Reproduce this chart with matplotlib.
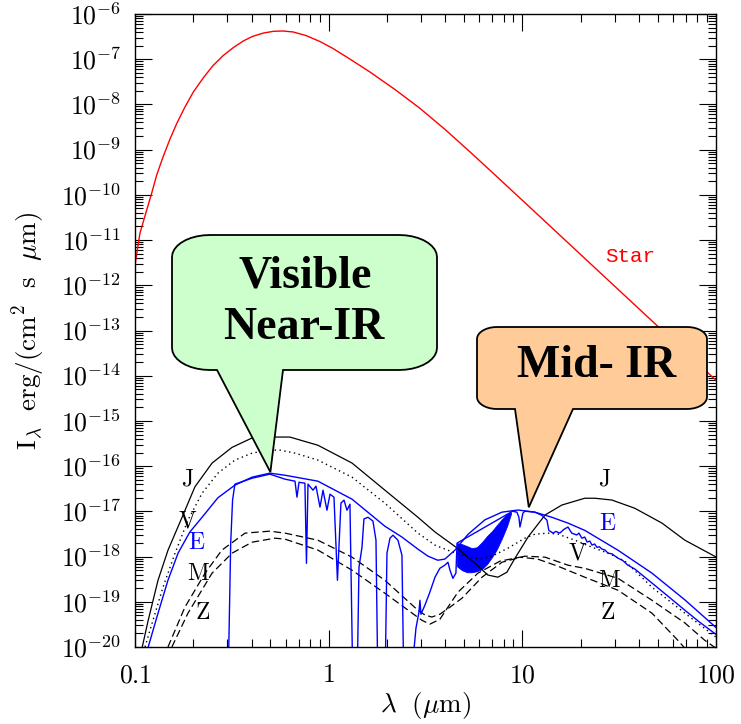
import numpy as np
import matplotlib
matplotlib.use("Agg")
import matplotlib.pyplot as plt
from matplotlib.patches import Polygon
from matplotlib.ticker import LogLocator, NullFormatter, FuncFormatter

plt.rcParams['mathtext.fontset'] = 'cm'

W, H = 741, 724

# --- data (wavelength in micron, intensity in erg/(cm2 s um)) ---
star_wl = [0.1, 0.1061, 0.1149, 0.122, 0.1294, 0.1395, 0.1516, 0.1647, 0.1811, 0.2, 0.2249, 0.253,
           0.2856, 0.3221, 0.3623, 0.4033, 0.4612, 0.5183, 0.5815, 0.6565, 0.7634, 0.9018, 1.052,
           1.238, 1.335, 1.634, 2.199, 2.96, 3.984, 5.364, 7.219, 9.718, 13.35, 19.14, 49.54, 100]
star_I = [2.8e-12, 1.43e-11, 4.6e-11, 1.1e-10, 2.74e-10, 6.86e-10, 1.72e-9, 3.88e-9, 8.75e-9, 1.88e-8,
          3.84e-8, 7.26e-8, 1.21e-7, 1.81e-7, 2.53e-7, 3.18e-7, 3.8e-7, 4.14e-7, 4.21e-7, 4.0e-7,
          3.34e-7, 2.46e-7, 1.73e-7, 1.12e-7, 9.12e-8, 5.21e-8, 2.14e-8, 8.2e-9, 2.81e-9, 8.94e-10,
          2.77e-10, 8.5e-11, 2.4e-11, 5.7e-12, 1.29e-13, 7.9e-15]

jup_wl = [0.109, 0.117, 0.1315, 0.148, 0.175, 0.204, 0.25, 0.317, 0.402, 0.541, 0.63, 0.88,
          1.32, 1.95, 2.89, 3.54, 4.6, 5.69, 6.64, 7.48, 8.32, 9.15, 10.7, 13.1, 16.0, 21.0,
          23.7, 29.0, 38.1, 52.6, 69.1, 100]
jup_I = [1e-20, 3.9e-20, 3.0e-19, 1.38e-18, 7.4e-18, 3.5e-17, 1.17e-16, 2.6e-16, 4.2e-16, 4.4e-16,
         4.4e-16, 2.9e-16, 1.17e-16, 2.95e-17, 7.4e-18, 3.5e-18, 1.55e-18, 7.1e-19, 3.9e-19, 3.5e-19,
         4.5e-19, 9.1e-19, 2.7e-18, 8.3e-18, 1.38e-17, 1.95e-17, 1.95e-17, 1.78e-17, 1.17e-17,
         5.5e-18, 2.3e-18, 9.8e-19]

ven_wl = [0.1126, 0.1238, 0.1395, 0.161, 0.1877, 0.2218, 0.268, 0.328, 0.402, 0.486, 0.561, 0.67,
          0.88, 1.32, 1.95, 2.89, 3.54, 4.38, 5.05, 6.04, 6.97, 8.42, 10.3, 11.6, 13.6, 15.3, 18.7,
          22.9, 27.7, 33.9, 46.7, 69.1, 100]
ven_I = [1e-20, 3.9e-20, 2.1e-19, 1.19e-18, 6.4e-18, 2.5e-17, 7.0e-17, 1.36e-16, 1.94e-16, 2.26e-16,
         2.26e-16, 1.94e-16, 1.36e-16, 5.7e-17, 1.52e-17, 3.3e-18, 1.79e-18, 1.25e-18, 1.02e-18,
         8.8e-19, 1.02e-18, 1.53e-18, 2.55e-18, 3.13e-18, 3.3e-18, 3.13e-18, 2.3e-18, 1.61e-18,
         1.19e-18, 7.9e-19, 2.1e-19, 5.6e-20, 1.65e-20]

# Earth: smooth model (no absorption)
earth_env_wl = [0.117, 0.1315, 0.148, 0.167, 0.192, 0.222, 0.268, 0.328, 0.402, 0.497, 0.594, 0.88,
                1.32, 1.95, 2.39, 2.89, 3.26, 3.66, 3.98, 4.49, 5.24, 6.41, 7.85, 9.5, 11.6, 14.2,
                17.2, 21.0, 31.2, 46.7, 69.1, 100]
earth_env_I = [1e-20, 5.6e-20, 3.0e-19, 1.2e-18, 3.5e-18, 7.4e-18, 2.0e-17, 3.8e-17, 5.7e-17, 7.0e-17,
               6.3e-17, 4.65e-17, 1.86e-17, 4.7e-18, 2.7e-18, 1.46e-18, 1.02e-18, 8.3e-19, 8.8e-19,
               1.39e-18, 3.1e-18, 6.5e-18, 9.6e-18, 1.07e-17, 9.6e-18, 7.4e-18, 5.5e-18, 3.8e-18,
               1.38e-18, 4.3e-19, 1.1e-19, 2.7e-20]

# Earth: spectrum with absorption bands
earth_wl = [0.302, 0.312, 0.319, 0.328, 0.402, 0.497, 0.595, 0.67, 0.686, 0.703, 0.754, 0.768, 0.782,
            0.83, 0.86, 0.902, 0.935, 0.98, 1.016, 1.065, 1.11, 1.157, 1.2, 1.243, 1.288, 1.335, 1.40,
            1.434, 1.486, 1.521, 1.596, 1.693, 1.755, 1.797, 1.953, 2.0, 2.073, 2.148, 2.279, 2.39,
            2.447, 2.63, 2.823, 2.925, 2.96, 2.995, 3.14, 3.33, 3.54, 3.75, 3.98, 4.13, 4.23, 4.38,
            4.54, 4.60, 8.73, 8.83, 9.38, 9.6, 9.72, 9.9, 10.07, 10.3, 11.6, 12.6, 13.4, 13.7, 14.4,
            14.9, 15.6, 16.4, 17.2, 18.0, 19.1, 19.6, 20.3, 21.0, 21.6, 22.3, 22.9, 23.6, 24.3, 25.0,
            25.8, 26.7, 27.7, 29.0, 31.2, 33.0, 35.0, 38.1, 46.7, 56.5, 69.1, 82.6, 100]
earth_I = [1e-21, 2.0e-18, 1.78e-17, 4.0e-17, 5.4e-17, 6.65e-17, 5.15e-17, 4.65e-17, 2.06e-17, 4.4e-17,
           4.2e-17, 7.1e-19, 4.0e-17, 2.94e-17, 3.6e-17, 1.24e-17, 2.94e-17, 1.06e-17, 2.4e-17,
           2.06e-17, 3.0e-19, 1.52e-17, 1.77e-17, 1.06e-17, 1.44e-17, 1e-21, 1e-21, 5.8e-19, 1.6e-18,
           6.8e-18, 7.4e-18, 6.1e-18, 2.3e-18, 1e-21, 1e-21, 1.19e-18, 2.55e-18, 2.97e-18, 2.3e-18,
           1.07e-18, 1e-21, 1e-21, 2.6e-20, 5.9e-20, 1.08e-19, 5.3e-20, 8.4e-20, 1.63e-19, 3.5e-19,
           5.5e-19, 6.45e-19, 7.5e-19, 5.0e-19, 3.3e-19, 4.3e-19, 1.98e-18, 9.6e-18, 1.01e-17,
           9.6e-18, 7.4e-18, 4.5e-18, 6.4e-18, 9.1e-18, 1.01e-17, 9.6e-18, 8.2e-18, 6.4e-18, 3.8e-18,
           3.3e-18, 3.6e-18, 3.3e-18, 4.0e-18, 4.5e-18, 3.3e-18, 3.0e-18, 3.3e-18, 2.55e-18, 2.7e-18,
           2.1e-18, 2.2e-18, 1.79e-18, 1.9e-18, 1.6e-18, 1.65e-18, 1.46e-18, 1.4e-18, 1.19e-18,
           1.15e-18, 9.2e-19, 8.2e-19, 6.5e-19, 5.3e-19, 2.6e-19, 1.33e-19, 6.5e-20, 3.5e-20, 1.9e-20]

# Earth: dense water band (5-8 um), upper and lower envelope of the trace
band_wl = [4.60, 4.88, 5.18, 5.49, 5.83, 6.19, 6.57, 6.97, 7.39, 7.85, 8.33, 8.73]
band_hi = [1.98e-18, 1.88e-18, 1.70e-18, 1.53e-18, 1.61e-18, 2.08e-18, 2.83e-18, 3.65e-18,
           4.95e-18, 6.7e-18, 8.7e-18, 9.6e-18]
band_lo = [6.1e-19, 5.0e-19, 4.5e-19, 4.5e-19, 4.75e-19, 5.3e-19, 6.8e-19, 9.7e-19, 1.46e-18,
           2.55e-18, 4.7e-18, 8.7e-18]

mars_wl = [0.148, 0.181, 0.23, 0.281, 0.37, 0.497, 0.595, 0.88, 1.32, 1.95, 2.89, 3.14, 3.41, 3.75,
           4.23, 4.88, 6.19, 7.85, 10.3, 13.1, 17.2, 21.0, 31.2, 46.7, 69.1, 87.6, 100]
mars_I = [1e-20, 7.6e-20, 4.3e-19, 1.39e-18, 3.3e-18, 3.65e-18, 3.3e-18, 2.3e-18, 9.7e-19, 3.0e-19,
          6.5e-20, 5.1e-20, 4.6e-20, 5.3e-20, 7.6e-20, 1.2e-19, 3.5e-19, 7.5e-19, 1.02e-18, 9.7e-19,
          6.45e-19, 5.5e-19, 3.3e-19, 1.08e-19, 3.4e-20, 1.4e-20, 9.4e-21]

zodi_wl = [0.155, 0.1877, 0.25, 0.317, 0.402, 0.528, 0.595, 0.88, 1.32, 1.95, 3.03, 3.33, 3.75, 4.65,
           5.9, 7.66, 9.72, 12.0, 15.3, 21.0, 31.2, 46.7, 63.6, 73.4]
zodi_I = [1e-20, 5.6e-20, 4.3e-19, 1.19e-18, 2.08e-18, 2.55e-18, 2.43e-18, 1.39e-18, 5.0e-19, 1.55e-19,
          3.9e-20, 3.2e-20, 4.1e-20, 1.63e-19, 4.3e-19, 7.9e-19, 9.7e-19, 8.8e-19, 6.1e-19, 3.5e-19,
          1.8e-19, 5.6e-20, 1.4e-20, 7e-21]

# curve labels: (text, wavelength, intensity, colour)
labels = [("J", 0.1855, 5.4e-17, "black"), ("V", 0.1877, 6.4e-18, "black"),
          ("E", 0.209, 2.08e-18, "blue"), ("M", 0.212, 4.3e-19, "black"),
          ("Z", 0.222, 5.9e-20, "black"),
          ("J", 26.7, 5.4e-17, "black"), ("E", 27.7, 5.5e-18, "blue"),
          ("V", 19.4, 1.25e-18, "black"), ("M", 28.3, 3.0e-19, "black"),
          ("Z", 27.7, 5.9e-20, "black")]

fig = plt.figure(figsize=(W / 100, H / 100), dpi=100)
ax = fig.add_axes([135 / W, 77 / H, 581 / W, 633 / H])

ax.plot(star_wl, star_I, color="red", lw=1.0)
ax.plot(jup_wl, jup_I, color="black", lw=0.9)
ax.plot(ven_wl, ven_I, color="black", lw=1.0, ls=(0, (1, 2.5)))
ax.plot(mars_wl, mars_I, color="black", lw=0.9, ls=(0, (6, 3)))
ax.plot(zodi_wl, zodi_I, color="black", lw=0.9, ls=(0, (6, 3)))
ax.plot(earth_env_wl, earth_env_I, color="blue", lw=1.0)
ax.plot(earth_wl, earth_I, color="blue", lw=1.0)
ax.fill_between(band_wl, band_lo, band_hi, color="blue", lw=0.6)

ax.set_xscale("log")
ax.set_yscale("log")
ax.set_xlim(0.1, 100)
ax.set_ylim(1e-20, 1e-6)

ax.yaxis.set_major_locator(LogLocator(base=10, numticks=30))
ax.yaxis.set_minor_locator(LogLocator(base=10, subs=np.arange(2, 10), numticks=200))
ax.yaxis.set_minor_formatter(NullFormatter())
ax.yaxis.set_major_formatter(FuncFormatter(lambda v, p: r"$10^{%d}$" % round(np.log10(v))))
ax.xaxis.set_minor_locator(LogLocator(base=10, subs=np.arange(2, 10), numticks=50))
ax.xaxis.set_minor_formatter(NullFormatter())
ax.set_xticks([0.1, 1, 10, 100])
ax.set_xticklabels([r"$0.1$", r"$1$", r"$10$", r"$100$"])

ax.tick_params(which="both", direction="in", top=True, right=True, labelsize=18.5, width=0.8)
ax.tick_params(which="major", length=12)
ax.tick_params(which="minor", length=6)
ax.tick_params(axis="x", pad=11)
ax.tick_params(axis="y", pad=10)
for s in ax.spines.values():
    s.set_linewidth(1.0)

ax.set_xlabel(r"$\lambda\ \ (\mu\mathrm{m})$", fontsize=19.5, labelpad=1)
ax.set_ylabel(r"$\mathrm{I_\lambda\ \ erg/(cm^2\ \ s\ \ }\mu\mathrm{m)}$", fontsize=19.5,
              labelpad=9)

for txt, x, y, c in labels:
    ax.text(x, y, r"$\mathrm{%s}$" % txt, color=c, fontsize=17, ha="center", va="center")
ax.text(36.0, 4.4e-12, "Star", color="red", fontsize=15, family="Liberation Mono",
        ha="center", va="center")


def callout(x0, y0, x1, y1, rx, ry, b0, b1, tip_data):
    # tip position from data coordinates, in pixels with y pointing down
    dx, dy = ax.transData.transform(tip_data)
    tx, ty = dx, H - dy
    pts = []
    arc = np.linspace(0, np.pi / 2, 10)
    for cx, cy, a0 in [(x1 - rx, y0 + ry, -np.pi / 2), (x1 - rx, y1 - ry, 0.0)]:
        for a in a0 + arc:
            pts.append((cx + rx * np.cos(a), cy + ry * np.sin(a)))
    pts += [(b1, y1), (tx, ty), (b0, y1)]
    for cx, cy, a0 in [(x0 + rx, y1 - ry, np.pi / 2), (x0 + rx, y0 + ry, np.pi)]:
        for a in a0 + arc:
            pts.append((cx + rx * np.cos(a), cy + ry * np.sin(a)))
    return [(px / W, 1 - py / H) for px, py in pts]


green = callout(172, 235, 437, 370, 38, 22, 217, 283, (0.5, 7.4e-17))
orange = callout(477, 327, 707, 409, 20, 12, 515, 573, (10.8, 1.23e-17))
for pts, fc in [(green, "#ccffcc"), (orange, "#ffcc99")]:
    ax.add_patch(Polygon(pts, closed=True, transform=fig.transFigure, facecolor=fc,
                         edgecolor="black", lw=1.3, clip_on=False, zorder=5))

bold = dict(family="Liberation Serif", weight="bold", fontsize=33, ha="center", va="center",
            transform=fig.transFigure, zorder=6)
fig.text(305 / W, 1 - 277 / H, "Visible", **bold)
fig.text(304 / W, 1 - 328 / H, "Near-IR", **bold)
fig.text(597 / W, 1 - 366 / H, "Mid- IR", **bold)

fig.savefig("out.png", dpi=100)
